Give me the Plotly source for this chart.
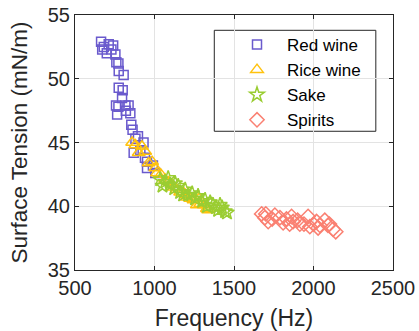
import plotly.graph_objects as go

# Red wine
red_x = [664, 712, 671, 681, 729, 754, 760, 773, 775, 806, 775, 800, 796, 758, 837, 773, 817,
         848, 765, 854, 862, 896, 931, 869, 911, 953, 953, 990, 1005, 700, 740, 820, 880, 940]
red_y = [52.9, 52.7, 52.3, 52.5, 52.3, 51.9, 51.3, 51.2, 50.6, 50.3, 49.3, 49.1, 48.5, 47.9, 47.9, 47.8, 47.9,
         47.3, 47.2, 46.4, 46.0, 45.5, 45.0, 44.2, 44.4, 43.5, 43.0, 43.2, 42.6, 52.0, 52.6, 47.5, 45.3, 43.8]

# Rice wine
rice_x = [859, 880, 921, 942, 963, 1005, 1015, 1040, 1067, 1090, 1109, 1140, 1161, 1180, 1203, 1225,
          1245, 1255, 1266, 1287, 1310, 1329, 1337, 900, 985, 1120, 1195, 1280]
rice_y = [45.0, 44.8, 44.7, 44.3, 43.4, 43.0, 42.6, 42.5, 42.1, 41.9, 41.7, 41.3, 41.1, 41.1, 40.7, 40.6,
          40.5, 40.6, 40.1, 40.2, 40.1, 39.8, 39.7, 44.2, 43.5, 41.5, 40.9, 40.6]

# Sake
sake_x = [1036, 1067, 1086, 1099, 1124, 1130, 1149, 1161, 1193, 1211, 1237, 1255, 1274, 1299, 1318,
          1350, 1368, 1387, 1412, 1425, 1444, 1456, 1050, 1180, 1330, 1400]
sake_y = [42.1, 41.9, 42.2, 41.7, 41.4, 41.8, 41.6, 41.1, 41.3, 40.9, 41.0, 40.6, 40.8, 40.4, 40.5,
          40.3, 40.1, 39.9, 40.1, 39.9, 39.6, 39.5, 41.6, 40.9, 40.0, 39.7]

# Spirits
spirit_x = [1674, 1694, 1715, 1757, 1789, 1809, 1862, 1872, 1914, 1966, 1977, 2019, 2029, 2071, 2091,
            2123, 2140, 1700, 1740, 1830, 1850, 1900, 1940, 2000, 2040, 2100]
spirit_y = [39.4, 39.1, 38.8, 39.3, 39.1, 38.7, 39.2, 38.8, 38.6, 39.2, 38.4, 38.8, 38.3, 38.9, 38.5,
            38.2, 38.0, 39.4, 39.0, 39.0, 38.6, 38.9, 38.6, 38.6, 38.5, 38.6]

series = [
    ("Red wine", red_x, red_y, "square-open", "#6a5acd", 9),
    ("Rice wine", rice_x, rice_y, "triangle-up-open", "#ffc20e", 11),
    ("Sake", sake_x, sake_y, "star-open", "#9acd32", 11),
    ("Spirits", spirit_x, spirit_y, "diamond-open", "#fa8072", 11),
]

fig = go.Figure()
for name, xs, ys, sym, col, sz in series:
    fig.add_trace(go.Scatter(x=xs, y=ys, mode="markers", name=name,
                             marker=dict(symbol=sym, size=sz, color=col,
                                         line=dict(color=col, width=1.5))))

axis_common = dict(showline=True, mirror="ticks", linecolor="#262626", linewidth=1,
                   ticks="inside", ticklen=4, tickcolor="#262626", automargin=False,
                   showgrid=True, gridcolor="#e3e3e3", gridwidth=1, zeroline=False,
                   tickfont=dict(family="Liberation Sans, Arial", size=20, color="#262626"))

fig.update_layout(
    width=419, height=331,
    margin=dict(l=74.5, r=26, t=15, b=61),
    paper_bgcolor="white", plot_bgcolor="white",
    font=dict(family="Liberation Sans, Arial", color="#262626"),
    xaxis=dict(range=[500, 2500], tickvals=[500, 1000, 1500, 2000, 2500],
               title=dict(text="Frequency (Hz)", font=dict(size=23), standoff=13), **axis_common),
    yaxis=dict(range=[35, 55], tickvals=[35, 40, 45, 50, 55],
               title=dict(text="Surface Tension (mN/m)", font=dict(size=22.5), standoff=13), **axis_common),
    legend=dict(x=0.478, y=0.953, xanchor="left", yanchor="top", itemwidth=50,
                bgcolor="rgba(0,0,0,0)", borderwidth=0,
                font=dict(size=17, color="#000000")),
    shapes=[dict(type="rect", xref="paper", yref="paper", x0=0.438, x1=0.946, y0=0.544, y1=0.94,
                 line=dict(color="#262626", width=1), fillcolor="white", layer="below")],
)

fig.write_html("out.html")
